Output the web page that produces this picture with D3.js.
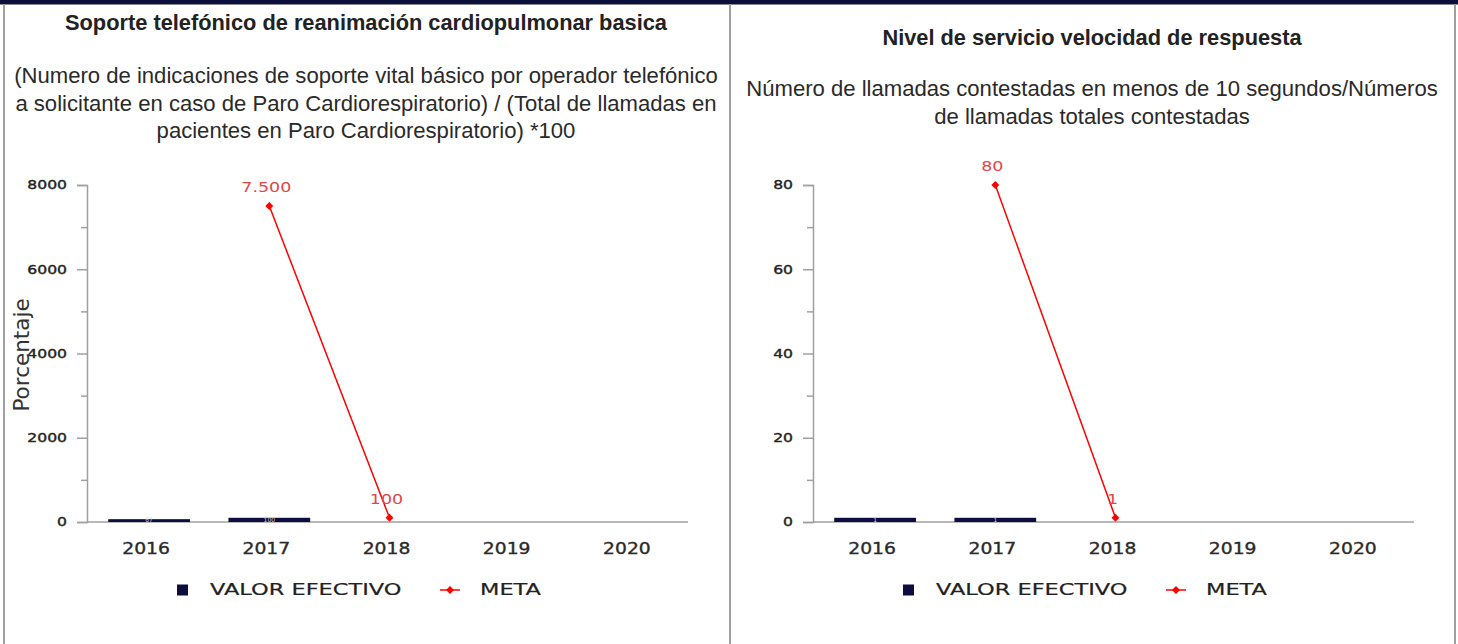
<!DOCTYPE html>
<html><head><meta charset="utf-8">
<script src="https://cdn.jsdelivr.net/npm/d3@7"></script>
<style>html,body{margin:0;padding:0;background:#fff;overflow:hidden}</style>
</head><body><svg id="c" width="1458" height="644"></svg>
<script>
// ---------- data ----------
const years = ["2016", "2017", "2018", "2019", "2020"];
const seriesNames = ["VALOR EFECTIVO", "META"];

const valorSoporte = [67, 100, null, null, null];
const metaSoporte = [null, 7500, 100, null, null];
const majorTicksSoporte = [0, 2000, 4000, 6000, 8000];
const minorTicksSoporte = [1000, 3000, 5000, 7000];

const valorNivel = [1, 1, null, null, null];
const metaNivel = [null, 80, 1, null, null];
const majorTicksNivel = [0, 20, 40, 60, 80];
const minorTicksNivel = [10, 30, 50, 70];

const titleSoporte = "Soporte telefónico de reanimación cardiopulmonar basica";
const subtitleSoporte = [
  "(Numero de indicaciones de soporte vital básico por operador telefónico",
  "a solicitante en caso de Paro Cardiorespiratorio) / (Total de llamadas en",
  "pacientes en Paro Cardiorespiratorio) *100"
];
const titleNivel = "Nivel de servicio velocidad de respuesta";
const subtitleNivel = [
  "Número de llamadas contestadas en menos de 10 segundos/Números",
  "de llamadas totales contestadas"
];
const yAxisTitle = "Porcentaje";

// ---------- style ----------
const W = 1458, H = 644;
const panelW = 726;
const navy = "#0d0d3f";
const red = "#ff0000";
const redLabel = "#e0474c";
const axisColor = "#a0a0a0";
const sx = 1.25; // horizontal stretch of the chart image text
const chartFont = "'DejaVu Sans', Verdana, sans-serif";
const htmlFont = "'Liberation Sans', Arial, sans-serif";

const svg = d3.select("#c");
const loc = d3.formatLocale({decimal: ",", thousands: ".", grouping: [3], currency: ["$", ""]});
const fmt = loc.format(",");

// frame
svg.append("rect").attr("x", 0).attr("y", 0).attr("width", W).attr("height", 4).attr("fill", "#0b0f3c");
svg.append("line").attr("x1", 0).attr("x2", W).attr("y1", 4.5).attr("y2", 4.5).attr("stroke", "#8a8a8a").attr("stroke-width", 1);
[4, 4 + panelW, 4 + 2 * panelW - 1].forEach(x => {
  svg.append("line").attr("x1", x).attr("x2", x).attr("y1", 4).attr("y2", H)
    .attr("stroke", axisColor).attr("stroke-width", 2);
});

function stext(g, x, y, s, size, opts = {}) {
  const t = g.append("text")
    .attr("transform", `translate(${x},${y}) scale(${opts.scale || sx},1)`)
    .attr("text-anchor", opts.anchor || "middle")
    .attr("dominant-baseline", opts.baseline || "central")
    .attr("font-family", opts.family || chartFont)
    .attr("font-size", size)
    .attr("font-weight", opts.weight || "normal")
    .attr("fill", opts.fill || "#333")
    .text(s);
  if (opts.heavy) t.attr("stroke", opts.fill || "#333").attr("stroke-width", opts.heavy);
  return t;
}

function panel(idx, cfg) {
  const ox = idx * panelW;
  const g = svg.append("g").attr("transform", `translate(${ox},0)`);
  const cx = 366;

  // titles
  g.append("text").attr("x", cx).attr("y", cfg.titleY).attr("text-anchor", "middle")
    .attr("font-family", htmlFont).attr("font-weight", "bold").attr("font-size", 21.8)
    .attr("fill", "#222").text(cfg.title);
  cfg.subtitle.forEach((s, i) => {
    g.append("text").attr("x", cx).attr("y", cfg.subY + i * 27.5).attr("text-anchor", "middle")
      .attr("font-family", htmlFont).attr("font-size", 22.1).attr("fill", "#2a2a2a").text(s);
  });

  const left = 87, right = 688, top = 185, bottom = 522;
  const y = d3.scaleLinear().domain([0, d3.max(cfg.major)]).range([bottom, top]);
  const x = d3.scaleBand().domain(years).range([left + 2, right + 2]).paddingInner(0.32).paddingOuter(0.16);

  // y axis
  const ya = g.append("g").attr("transform", `translate(${left},0)`)
    .call(d3.axisLeft(y).tickValues(cfg.major).tickSize(10).tickFormat(""));
  ya.select(".domain").attr("stroke", axisColor).attr("stroke-width", 1.5);
  ya.selectAll(".tick line").attr("stroke", axisColor).attr("stroke-width", 1.5);
  const ym = g.append("g").attr("transform", `translate(${left},0)`)
    .call(d3.axisLeft(y).tickValues(cfg.minor).tickSize(6).tickFormat(""));
  ym.select(".domain").remove();
  ym.selectAll(".tick line").attr("stroke", axisColor).attr("stroke-width", 1.5);
  cfg.major.forEach(v => stext(g, left - 20, y(v), String(v), 12.5, {anchor: "end", fill: "#222", heavy: 0.4}));

  // x axis
  g.append("line").attr("x1", left).attr("x2", right).attr("y1", bottom).attr("y2", bottom)
    .attr("stroke", axisColor).attr("stroke-width", 1.5);
  years.forEach(yr => stext(g, x(yr) + x.bandwidth() / 2 - 3, 549, yr, 15, {fill: "#2a2a2a", heavy: 0.35}));

  if (cfg.yTitle) {
    g.append("text").attr("transform", `translate(28.5,355) rotate(-90)`)
      .attr("text-anchor", "middle").attr("font-family", chartFont).attr("font-size", 21.5)
      .attr("fill", "#333").text(cfg.yTitle);
  }

  // bars
  const barData = years.map((yr, i) => ({yr, v: cfg.valor[i]})).filter(d => d.v != null);
  g.selectAll("rect.bar").data(barData).enter().append("rect").attr("class", "bar")
    .attr("x", d => x(d.yr)).attr("width", x.bandwidth())
    .attr("y", d => y(d.v)).attr("height", d => bottom - y(d.v)).attr("fill", navy);
  barData.forEach(d => {
    g.append("text").attr("x", x(d.yr) + x.bandwidth() / 2).attr("y", bottom - 0.5)
      .attr("text-anchor", "middle").attr("font-family", chartFont).attr("font-size", 6)
      .attr("fill", "#ccd").text(fmt(d.v));
  });

  // meta line
  const metaData = years.map((yr, i) => ({yr, v: cfg.meta[i]})).filter(d => d.v != null);
  const line = d3.line().x(d => x(d.yr) + x.bandwidth() / 2).y(d => y(d.v));
  g.append("path").datum(metaData).attr("d", line).attr("fill", "none")
    .attr("stroke", red).attr("stroke-width", 1.5);
  const sym = d3.symbol().type(d3.symbolDiamond2).size(40);
  metaData.forEach(d => {
    g.append("path").attr("d", sym()).attr("fill", red)
      .attr("transform", `translate(${x(d.yr) + x.bandwidth() / 2},${y(d.v)})`);
    stext(g, x(d.yr) + x.bandwidth() / 2 - 3, y(d.v) - 19, fmt(d.v), 14, {fill: redLabel});
  });

  // legend
  const ly = 590;
  g.append("rect").attr("x", 177).attr("y", ly - 5.5).attr("width", 11).attr("height", 11).attr("fill", navy);
  stext(g, 210, ly, seriesNames[0], 16.3, {anchor: "start", fill: "#222", scale: 1.38, heavy: 0.2});
  g.append("line").attr("x1", 440).attr("x2", 460).attr("y1", ly).attr("y2", ly).attr("stroke", red).attr("stroke-width", 1.5);
  g.append("path").attr("d", sym()).attr("fill", red).attr("transform", `translate(450,${ly})`);
  stext(g, 480, ly, seriesNames[1], 16.3, {anchor: "start", fill: "#222", scale: 1.38, heavy: 0.2});
}

panel(0, {title: titleSoporte, titleY: 30, subtitle: subtitleSoporte, subY: 83,
  valor: valorSoporte, meta: metaSoporte, major: majorTicksSoporte, minor: minorTicksSoporte, yTitle: yAxisTitle});
panel(1, {title: titleNivel, titleY: 45, subtitle: subtitleNivel, subY: 96,
  valor: valorNivel, meta: metaNivel, major: majorTicksNivel, minor: minorTicksNivel, yTitle: null});
</script>
</body></html>
